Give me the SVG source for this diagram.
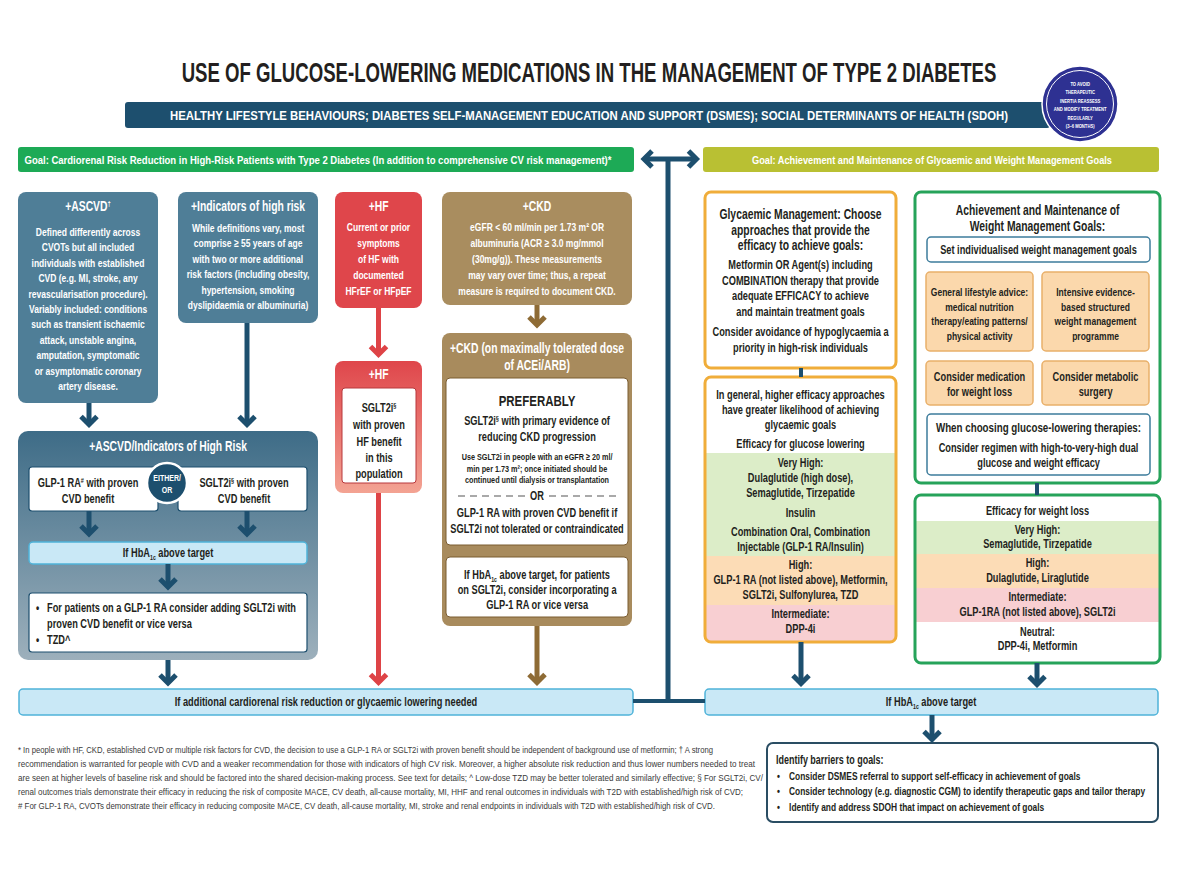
<svg xmlns="http://www.w3.org/2000/svg" width="1200" height="880" viewBox="0 0 1200 880">
<defs>
<style>
text{font-family:"Liberation Sans",Arial,Helvetica,sans-serif;font-weight:bold;fill:#231f20}
.c{text-anchor:middle;transform-box:fill-box;transform-origin:center;transform:scaleX(0.74)}
.l{transform-box:fill-box;transform-origin:left center;transform:scaleX(0.74)}
.k{transform-box:fill-box;transform-origin:left center;transform:scaleX(0.73);font-size:11.5px}
.w{fill:#fff}
.h{font-size:14px}
.b{font-size:11.5px}
.g{font-size:12.5px}
.s{font-size:9.8px}
.ci{font-size:6.2px}
.fn{font-weight:normal;font-size:9.5px;fill:#3a3a3a}
.wb{fill:#fff;stroke:#1d4f6e;stroke-width:1.2}
.lb{fill:#c9e8f6;stroke:#4fb3d9;stroke-width:1.5}
.ob{fill:#fbd8ac;stroke:#e9b06a;stroke-width:1.5}
.bb{fill:#fff;stroke:#3d7c9c;stroke-width:1.5}
.ar{fill:none;stroke:#1d4f6e;stroke-width:5}
.arr{fill:none;stroke:#de4346;stroke-width:5}
.arb{fill:none;stroke:#8e6b35;stroke-width:5}
.cn{fill:none;stroke:#1d4f6e;stroke-width:4}
</style>
<marker id="hn" viewBox="-12 -12 24 24" markerWidth="24" markerHeight="24" markerUnits="userSpaceOnUse" refX="0" refY="0" orient="auto-start-reverse"><path d="M-8,-8 L0,0 L-8,8" fill="none" stroke="#1d4f6e" stroke-width="5"/></marker>
<marker id="hr" viewBox="-12 -12 24 24" markerWidth="24" markerHeight="24" markerUnits="userSpaceOnUse" refX="0" refY="0" orient="auto"><path d="M-8,-8 L0,0 L-8,8" fill="none" stroke="#de4346" stroke-width="5"/></marker>
<marker id="hb" viewBox="-12 -12 24 24" markerWidth="24" markerHeight="24" markerUnits="userSpaceOnUse" refX="0" refY="0" orient="auto"><path d="M-8,-8 L0,0 L-8,8" fill="none" stroke="#8e6b35" stroke-width="5"/></marker>
<linearGradient id="gBig" x1="0" y1="0" x2="0" y2="1"><stop offset="0" stop-color="#3e6c87"/><stop offset="1" stop-color="#9db0bc"/></linearGradient>
<linearGradient id="gHf" x1="0" y1="0" x2="0" y2="1"><stop offset="0" stop-color="#df464b"/><stop offset="1" stop-color="#f3a393"/></linearGradient>
<clipPath id="cpG"><rect x="705" y="377" width="191" height="265" rx="6"/></clipPath>
<clipPath id="cpW"><rect x="915" y="495" width="245" height="168" rx="6"/></clipPath>
</defs>
<rect width="1200" height="880" fill="#fff"/>

<g id="title">
<text class="c" x="589" y="82" font-size="27" style="transform:scaleX(0.689)">USE OF GLUCOSE-LOWERING MEDICATIONS IN THE MANAGEMENT OF TYPE 2 DIABETES</text>
</g>

<g id="lifestyle-bar">
<rect x="125" y="102" width="925" height="26" rx="3" fill="#1d4f6e"/>
<text class="w" x="589" y="120" font-size="13.5" text-anchor="middle" textLength="838" lengthAdjust="spacingAndGlyphs">HEALTHY LIFESTYLE BEHAVIOURS; DIABETES SELF-MANAGEMENT EDUCATION AND SUPPORT (DSMES); SOCIAL DETERMINANTS OF HEALTH (SDOH)</text>
</g>

<g id="reassess-circle">
<circle cx="1080" cy="104" r="38" fill="#2e3192" stroke="#fff" stroke-width="1.5"/>
<circle cx="1080" cy="104" r="33.5" fill="none" stroke="#fff" stroke-width="1"/>
<text class="w c ci" style="transform:scaleX(0.67)"><tspan x="1080" y="86">TO AVOID</tspan><tspan x="1080" y="94.5">THERAPEUTIC</tspan><tspan x="1080" y="103">INERTIA REASSESS</tspan><tspan x="1080" y="111.5">AND MODIFY TREATMENT</tspan><tspan x="1080" y="120">REGULARLY</tspan><tspan x="1080" y="128.5">(3–6 MONTHS)</tspan></text>
</g>

<g id="goal-cardiorenal">
<rect x="18" y="147" width="616" height="25" rx="3" fill="#1daa56"/>
<text class="w" x="318" y="163.5" font-size="10.5" text-anchor="middle" textLength="587" lengthAdjust="spacingAndGlyphs">Goal: Cardiorenal Risk Reduction in High-Risk Patients with Type 2 Diabetes (In addition to comprehensive CV risk management)*</text>
</g>

<g id="goal-glycaemic">
<rect x="703" y="147" width="456" height="25" rx="3" fill="#b9c033"/>
<text class="w" x="932" y="163.5" font-size="10.5" text-anchor="middle" textLength="360" lengthAdjust="spacingAndGlyphs">Goal: Achievement and Maintenance of Glycaemic and Weight Management Goals</text>
</g>

<g id="ascvd">
<rect x="18" y="192" width="140" height="211" rx="8" fill="#4f7e97"/>
<text class="w c h" x="88" y="211.5">+ASCVD<tspan font-size="8" dy="-5">†</tspan></text>
<text class="w c b" x="88" y="236">Defined differently across</text>
<text class="w c b" x="88" y="251.4">CVOTs but all included</text>
<text class="w c b" x="88" y="266.8">individuals with established</text>
<text class="w c b" x="88" y="282.2">CVD (e.g. MI, stroke, any</text>
<text class="w c b" x="88" y="297.6">revascularisation procedure).</text>
<text class="w c b" x="88" y="313">Variably included: conditions</text>
<text class="w c b" x="88" y="328.4">such as transient ischaemic</text>
<text class="w c b" x="88" y="343.8">attack, unstable angina,</text>
<text class="w c b" x="88" y="359.2">amputation, symptomatic</text>
<text class="w c b" x="88" y="374.6">or asymptomatic coronary</text>
<text class="w c b" x="88" y="390">artery disease.</text>
</g>

<g id="high-risk">
<rect x="178" y="192" width="140" height="131" rx="8" fill="#4f7e97"/>
<text class="w c h" x="248" y="211.5">+Indicators of high risk</text>
<text class="w c b" x="248" y="232">While definitions vary, most</text>
<text class="w c b" x="248" y="247.5">comprise ≥ 55 years of age</text>
<text class="w c b" x="248" y="263">with two or more additional</text>
<text class="w c b" x="248" y="278.5">risk factors (including obesity,</text>
<text class="w c b" x="248" y="294">hypertension, smoking</text>
<text class="w c b" x="248" y="309.5">dyslipidaemia or albuminuria)</text>
</g>

<g id="hf">
<rect x="335" y="192" width="87" height="116" rx="8" fill="#df464b"/>
<text class="w c h" x="378.5" y="211.5">+HF</text>
<text class="w c b" x="378.5" y="231">Current or prior</text>
<text class="w c b" x="378.5" y="247">symptoms</text>
<text class="w c b" x="378.5" y="263">of HF with</text>
<text class="w c b" x="378.5" y="279">documented</text>
<text class="w c b" x="378.5" y="295">HFrEF or HFpEF</text>
</g>

<g id="ckd">
<rect x="442" y="192" width="190" height="113" rx="8" fill="#a98d5f"/>
<text class="w c h" x="537" y="211.5">+CKD</text>
<text class="w c b" x="537" y="231">eGFR &lt; 60 ml/min per 1.73 m² OR</text>
<text class="w c b" x="537" y="247">albuminuria (ACR ≥ 3.0 mg/mmol</text>
<text class="w c b" x="537" y="263">(30mg/g)). These measurements</text>
<text class="w c b" x="537" y="279">may vary over time; thus, a repeat</text>
<text class="w c b" x="537" y="295">measure is required to document CKD.</text>
</g>

<g id="ascvd-high-risk">
<rect x="18" y="431" width="300" height="229" rx="10" fill="url(#gBig)"/>
<text class="w c h" x="168" y="451.5">+ASCVD/Indicators of High Risk</text>
</g>

<g id="glp1-cvd">
<rect class="wb" x="29" y="467" width="129" height="44" rx="3"/>
<text class="c g" x="88" y="487">GLP-1 RA<tspan font-size="7.5" dy="-4">#</tspan><tspan dy="4"> with proven</tspan></text>
<text class="c g" x="88" y="503">CVD benefit</text>
</g>

<g id="sglt2-cvd">
<rect class="wb" x="178" y="467" width="129" height="44" rx="3"/>
<text class="c g" x="244" y="487">SGLT2i<tspan font-size="7.5" dy="-4">§</tspan><tspan dy="4"> with proven</tspan></text>
<text class="c g" x="244" y="503">CVD benefit</text>
</g>

<g id="either-or">
<circle cx="167" cy="483" r="20" fill="#1d4f6e" stroke="#fff" stroke-width="2.5"/>
<text class="w c" x="167" y="481" font-size="9.5">EITHER/</text>
<text class="w c" x="167" y="493" font-size="9.5">OR</text>
</g>

<g id="hba1c-left">
<rect class="lb" x="29" y="542" width="278" height="22" rx="4"/>
<text class="c g" x="168" y="557.5">If HbA<tspan font-size="7" dy="3">1c</tspan><tspan dy="-3"> above target</tspan></text>
</g>

<g id="add-therapy">
<rect class="wb" x="29" y="593" width="278" height="59" rx="3"/>
<text class="l g" x="36" y="612">•<tspan dx="10.5">For patients on a GLP-1 RA consider adding SGLT2i with</tspan></text>
<text class="l g" x="47" y="628">proven CVD benefit or vice versa</text>
<text class="l g" x="36" y="644">•<tspan dx="10.5">TZD^</tspan></text>
</g>

<g id="hf-sglt2">
<rect x="335" y="361" width="87" height="132" rx="8" fill="url(#gHf)"/>
<text class="w c h" x="378.5" y="379.5">+HF</text>
<rect x="342" y="388" width="74" height="95" rx="3" fill="#fff" stroke="#b8383c" stroke-width="1"/>
<text class="c g" x="379" y="412">SGLT2i<tspan font-size="7.5" dy="-4">§</tspan></text>
<text class="c g" x="379" y="429">with proven</text>
<text class="c g" x="379" y="446">HF benefit</text>
<text class="c g" x="379" y="462">in this</text>
<text class="c g" x="379" y="478">population</text>
</g>

<g id="ckd-acei">
<rect x="442" y="333" width="190" height="293" rx="8" fill="#a88b5d"/>
<text class="w c h" x="537" y="353">+CKD (on maximally tolerated dose</text>
<text class="w c h" x="537" y="370">of ACEi/ARB)</text>
<rect x="446" y="378" width="182" height="167" rx="4" fill="#fff" stroke="#7a5c30" stroke-width="1"/>
<text class="c" x="537" y="406" font-size="15.5">PREFERABLY</text>
<text class="c g" x="537" y="425">SGLT2i<tspan font-size="7.5" dy="-4">§</tspan><tspan dy="4"> with primary evidence of</tspan></text>
<text class="c g" x="537" y="441.5">reducing CKD progression</text>
<text class="c s" x="537" y="460.5">Use SGLT2i in people with an eGFR ≥ 20 ml/</text>
<text class="c s" x="537" y="472">min per 1.73 m²; once initiated should be</text>
<text class="c s" x="537" y="483.5">continued until dialysis or transplantation</text>
<line x1="458" y1="496" x2="526" y2="496" stroke="#555" stroke-width="1.2" stroke-dasharray="7,5"/>
<line x1="549" y1="496" x2="618" y2="496" stroke="#555" stroke-width="1.2" stroke-dasharray="7,5"/>
<text class="c g" x="537" y="500">OR</text>
<text class="c g" x="537" y="517.5">GLP-1 RA with proven CVD benefit if</text>
<text class="c g" x="537" y="533.5">SGLT2i not tolerated or contraindicated</text>
<rect x="446" y="557" width="182" height="60" rx="4" fill="#fff" stroke="#7a5c30" stroke-width="1"/>
<text class="c g" x="537" y="579.5">If HbA<tspan font-size="7" dy="3">1c</tspan><tspan dy="-3"> above target, for patients</tspan></text>
<text class="c g" x="537" y="594.5">on SGLT2i, consider incorporating a</text>
<text class="c g" x="537" y="609.5">GLP-1 RA or vice versa</text>
</g>

<g id="additional-needed">
<rect class="lb" x="19" y="689" width="614" height="26" rx="4"/>
<text class="c g" x="326" y="706">If additional cardiorenal risk reduction or glycaemic lowering needed</text>
</g>

<g id="glycaemic-mgmt">
<rect x="705" y="192" width="191" height="176" rx="6" fill="#fff" stroke="#f0ad3a" stroke-width="3"/>
<text class="c h" x="800.5" y="219">Glycaemic Management: Choose</text>
<text class="c h" x="800.5" y="235">approaches that provide the</text>
<text class="c h" x="800.5" y="250.5">efficacy to achieve goals:</text>
<text class="c g" x="800.5" y="269.5">Metformin OR Agent(s) including</text>
<text class="c g" x="800.5" y="285">COMBINATION therapy that provide</text>
<text class="c g" x="800.5" y="300.5">adequate EFFICACY to achieve</text>
<text class="c g" x="800.5" y="316">and maintain treatment goals</text>
<text class="c g" x="800.5" y="336">Consider avoidance of hypoglycaemia a</text>
<text class="c g" x="800.5" y="352">priority in high-risk individuals</text>
</g>

<g id="glucose-efficacy">
<g clip-path="url(#cpG)">
<rect x="705" y="377" width="191" height="265" fill="#fff"/>
<rect x="705" y="453" width="191" height="103" fill="#dcedc8"/>
<rect x="705" y="556" width="191" height="49" fill="#fcdcb6"/>
<rect x="705" y="605" width="191" height="37" fill="#f8cfd2"/>
</g>
<rect x="705" y="377" width="191" height="265" rx="6" fill="none" stroke="#f0ad3a" stroke-width="3"/>
<text class="c g" x="800.5" y="399">In general, higher efficacy approaches</text>
<text class="c g" x="800.5" y="414">have greater likelihood of achieving</text>
<text class="c g" x="800.5" y="429">glycaemic goals</text>
<text class="c g" x="800.5" y="448">Efficacy for glucose lowering</text>
<text class="c g" x="800.5" y="467.5">Very High:</text>
<text class="c g" x="800.5" y="482.5">Dulaglutide (high dose),</text>
<text class="c g" x="800.5" y="497.5">Semaglutide, Tirzepatide</text>
<text class="c g" x="800.5" y="517.5">Insulin</text>
<text class="c g" x="800.5" y="536.5">Combination Oral, Combination</text>
<text class="c g" x="800.5" y="551.5">Injectable (GLP-1 RA/Insulin)</text>
<text class="c g" x="800.5" y="569.5">High:</text>
<text class="c g" x="800.5" y="584.5">GLP-1 RA (not listed above), Metformin,</text>
<text class="c g" x="800.5" y="599.5">SGLT2i, Sulfonylurea, TZD</text>
<text class="c g" x="800.5" y="618.5">Intermediate:</text>
<text class="c g" x="800.5" y="633">DPP-4i</text>
</g>

<g id="weight-mgmt">
<rect x="915" y="192" width="245" height="291" rx="6" fill="#fff" stroke="#26a35a" stroke-width="3"/>
<text class="c h" x="1037.5" y="215">Achievement and Maintenance of</text>
<text class="c h" x="1037.5" y="231.5">Weight Management Goals:</text>
<rect class="bb" x="927" y="237" width="223" height="25" rx="4"/>
<text class="c g" x="1038.5" y="254.5">Set individualised weight management goals</text>
<rect class="ob" x="926" y="272" width="107" height="79" rx="4"/>
<text class="c b" x="979.5" y="296.5">General lifestyle advice:</text>
<text class="c b" x="979.5" y="311">medical nutrition</text>
<text class="c b" x="979.5" y="325.5">therapy/eating patterns/</text>
<text class="c b" x="979.5" y="340">physical activity</text>
<rect class="ob" x="1042" y="272" width="107" height="79" rx="4"/>
<text class="c b" x="1095.5" y="296.5">Intensive evidence-</text>
<text class="c b" x="1095.5" y="311">based structured</text>
<text class="c b" x="1095.5" y="325.5">weight management</text>
<text class="c b" x="1095.5" y="340">programme</text>
<rect class="ob" x="926" y="361" width="107" height="44" rx="4"/>
<text class="c g" x="979.5" y="381">Consider medication</text>
<text class="c g" x="979.5" y="396">for weight loss</text>
<rect class="ob" x="1042" y="361" width="107" height="44" rx="4"/>
<text class="c g" x="1095.5" y="381">Consider metabolic</text>
<text class="c g" x="1095.5" y="396">surgery</text>
<rect class="bb" x="927" y="414" width="223" height="61" rx="4"/>
<text class="c" x="1038.5" y="432.5" font-size="13.2">When choosing glucose-lowering therapies:</text>
<text class="c g" x="1038.5" y="452">Consider regimen with high-to-very-high dual</text>
<text class="c g" x="1038.5" y="467">glucose and weight efficacy</text>
</g>

<g id="weight-efficacy">
<g clip-path="url(#cpW)">
<rect x="915" y="495" width="245" height="168" fill="#fff"/>
<rect x="915" y="521" width="245" height="33" fill="#dcedc8"/>
<rect x="915" y="554" width="245" height="34" fill="#fcdcb6"/>
<rect x="915" y="588" width="245" height="34" fill="#f8cfd2"/>
</g>
<rect x="915" y="495" width="245" height="168" rx="6" fill="none" stroke="#26a35a" stroke-width="3"/>
<text class="c g" x="1037.5" y="515">Efficacy for weight loss</text>
<text class="c g" x="1037.5" y="534">Very High:</text>
<text class="c g" x="1037.5" y="548.5">Semaglutide, Tirzepatide</text>
<text class="c g" x="1037.5" y="567.5">High:</text>
<text class="c g" x="1037.5" y="582">Dulaglutide, Liraglutide</text>
<text class="c g" x="1037.5" y="601.5">Intermediate:</text>
<text class="c g" x="1037.5" y="616">GLP-1RA (not listed above), SGLT2i</text>
<text class="c g" x="1037.5" y="636">Neutral:</text>
<text class="c g" x="1037.5" y="650.5">DPP-4i, Metformin</text>
</g>

<g id="hba1c-right">
<rect class="lb" x="705" y="689" width="453" height="26" rx="4"/>
<text class="c g" x="931" y="706">If HbA<tspan font-size="7" dy="3">1c</tspan><tspan dy="-3"> above target</tspan></text>
</g>

<g id="barriers">
<rect x="767" y="743" width="391" height="79" rx="6" fill="#fff" stroke="#2a4d63" stroke-width="2"/>
<text class="k" x="776" y="764" style="font-size:12.3px">Identify barriers to goals:</text>
<text class="k" x="777" y="780">•<tspan dx="12.5">Consider DSMES referral to support self-efficacy in achievement of goals</tspan></text>
<text class="k" x="777" y="795.5">•<tspan dx="12.5">Consider technology (e.g. diagnostic CGM) to identify therapeutic gaps and tailor therapy</tspan></text>
<text class="k" x="777" y="811">•<tspan dx="12.5">Identify and address SDOH that impact on achievement of goals</tspan></text>
</g>

<g id="footnotes">
<text class="fn" x="18" y="753" textLength="695" lengthAdjust="spacingAndGlyphs">* In people with HF, CKD, established CVD or multiple risk factors for CVD, the decision to use a GLP-1 RA or SGLT2i with proven benefit should be independent of background use of metformin; † A strong</text>
<text class="fn" x="18" y="767" textLength="737" lengthAdjust="spacingAndGlyphs">recommendation is warranted for people with CVD and a weaker recommendation for those with indicators of high CV risk. Moreover, a higher absolute risk reduction and thus lower numbers needed to treat</text>
<text class="fn" x="18" y="781" textLength="745" lengthAdjust="spacingAndGlyphs">are seen at higher levels of baseline risk and should be factored into the shared decision-making process. See text for details; ^ Low-dose TZD may be better tolerated and similarly effective; § For SGLT2i, CV/</text>
<text class="fn" x="18" y="795" textLength="725" lengthAdjust="spacingAndGlyphs">renal outcomes trials demonstrate their efficacy in reducing the risk of composite MACE, CV death, all-cause mortality, MI, HHF and renal outcomes in individuals with T2D with established/high risk of CVD;</text>
<text class="fn" x="18" y="809" textLength="697" lengthAdjust="spacingAndGlyphs"># For GLP-1 RA, CVOTs demonstrate their efficacy in reducing composite MACE, CV death, all-cause mortality, MI, stroke and renal endpoints in individuals with T2D with established/high risk of CVD.</text>
</g>

<g id="connectors">
<line class="ar" x1="644" y1="159" x2="696.5" y2="159" marker-start="url(#hn)" marker-end="url(#hn)"/>
<line class="ar" x1="668" y1="159" x2="668" y2="703"/>
<line class="cn" x1="633" y1="701" x2="705" y2="701"/>
<line class="ar" x1="89" y1="403" x2="89" y2="424.5" marker-end="url(#hn)"/>
<line class="ar" x1="247" y1="323" x2="247" y2="424.5" marker-end="url(#hn)"/>
<line class="ar" x1="89" y1="511" x2="89" y2="534" marker-end="url(#hn)"/>
<line class="ar" x1="247" y1="511" x2="247" y2="534" marker-end="url(#hn)"/>
<line class="ar" x1="168" y1="564" x2="168" y2="587" marker-end="url(#hn)"/>
<line class="ar" x1="168" y1="660" x2="168" y2="683" marker-end="url(#hn)"/>
<line class="arr" x1="378.5" y1="308" x2="378.5" y2="354.5" marker-end="url(#hr)"/>
<line class="arr" x1="378.5" y1="493" x2="378.5" y2="682.5" marker-end="url(#hr)"/>
<line class="arb" x1="537" y1="305" x2="537" y2="325" marker-end="url(#hb)"/>
<line class="arb" x1="537" y1="626" x2="537" y2="682.5" marker-end="url(#hb)"/>
<line class="cn" x1="801" y1="368" x2="801" y2="377"/>
<line class="ar" x1="801" y1="642" x2="801" y2="683.5" marker-end="url(#hn)"/>
<line class="cn" x1="1037" y1="483" x2="1037" y2="495"/>
<line class="ar" x1="1037" y1="663" x2="1037" y2="684.5" marker-end="url(#hn)"/>
<line class="ar" x1="932" y1="715" x2="932" y2="739.5" marker-end="url(#hn)"/>
</g>
</svg>
